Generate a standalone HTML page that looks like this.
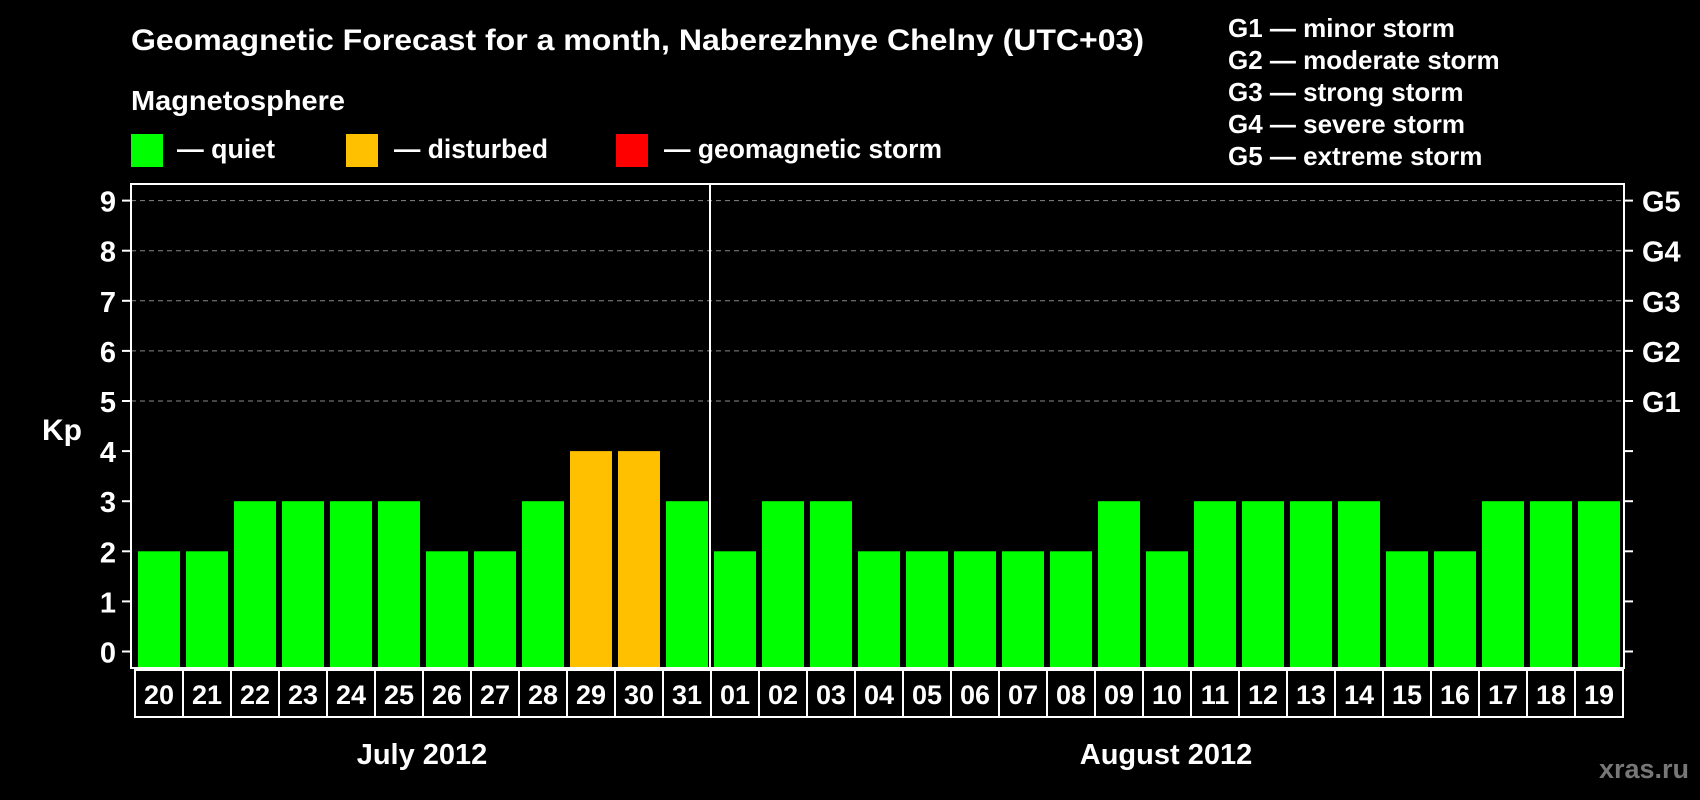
<!DOCTYPE html>
<html><head><meta charset="utf-8"><style>
html,body{margin:0;padding:0;background:#000;}
svg{display:block;font-family:"Liberation Sans",Arial,sans-serif;font-weight:bold;}
</style></head><body>
<svg id="chart" width="1700" height="800" viewBox="0 0 1700 800">
<rect x="0" y="0" width="1700" height="800" fill="#000"/>
<text x="131" y="50" fill="#fff" font-size="30" textLength="1013" lengthAdjust="spacingAndGlyphs">Geomagnetic Forecast for a month, Naberezhnye Chelny (UTC+03)</text>
<text x="131" y="110" fill="#fff" font-size="28" textLength="214" lengthAdjust="spacingAndGlyphs">Magnetosphere</text>
<g><rect x="131" y="134" width="32" height="33" fill="#00ff00"/><text x="177" y="158" fill="#fff" font-size="27" textLength="98" lengthAdjust="spacingAndGlyphs">— quiet</text></g>
<g><rect x="346" y="134" width="32" height="33" fill="#ffc000"/><text x="394" y="158" fill="#fff" font-size="27" textLength="154" lengthAdjust="spacingAndGlyphs">— disturbed</text></g>
<g><rect x="616" y="134" width="32" height="33" fill="#ff0000"/><text x="664" y="158" fill="#fff" font-size="27" textLength="278" lengthAdjust="spacingAndGlyphs">— geomagnetic storm</text></g>
<g fill="#fff" font-size="26">
<text x="1228" y="37">G1 — minor storm</text>
<text x="1228" y="69">G2 — moderate storm</text>
<text x="1228" y="101">G3 — strong storm</text>
<text x="1228" y="133">G4 — severe storm</text>
<text x="1228" y="165">G5 — extreme storm</text>
</g>
<text x="42" y="440" fill="#fff" font-size="30">Kp</text>
<g id="grid"></g><g id="bars"></g><g id="axes"></g><g id="dates"></g>
<text x="422" y="764" fill="#fff" font-size="29" text-anchor="middle">July 2012</text>
<text x="1166" y="764" fill="#fff" font-size="29" text-anchor="middle">August 2012</text>
<text x="1689" y="778" fill="#777" font-size="27" text-anchor="end">xras.ru</text>
</svg>
<script>
const days = ["20","21","22","23","24","25","26","27","28","29","30","31","01","02","03","04","05","06","07","08","09","10","11","12","13","14","15","16","17","18","19"];
const kp = [2,2,3,3,3,3,2,2,3,4,4,3,2,3,3,2,2,2,2,2,3,2,3,3,3,3,2,2,3,3,3];
const yTicks = [0,1,2,3,4,5,6,7,8,9];
const gLabels = ["G1","G2","G3","G4","G5"];
const NS="http://www.w3.org/2000/svg";
const L=131,R=1624,T=184,B=668,y0=651.5,unit=50.1,pitch=48,x0=135;
const y=v=>y0-v*unit;
const xb=i=>x0+i*pitch;
function mk(t,a,p){const e=document.createElementNS(NS,t);for(const k in a)e.setAttribute(k,a[k]);p.appendChild(e);return e;}
const grid=document.getElementById('grid'),bars=document.getElementById('bars'),axes=document.getElementById('axes'),dates=document.getElementById('dates');
yTicks.forEach(v=>{
  if(v>=5){const g=mk('line',{x1:L,x2:R,y1:y(v),y2:y(v),stroke:'#888','stroke-width':1,'stroke-dasharray':'5,4'},grid);
  
  }
  mk('line',{x1:L-9,x2:L,y1:y(v),y2:y(v),stroke:'#fff','stroke-width':2},axes);
  mk('line',{x1:R,x2:R+9,y1:y(v),y2:y(v),stroke:'#fff','stroke-width':2},axes);
  const t=mk('text',{x:116,y:y(v)+11,fill:'#fff','font-size':29,'text-anchor':'end'},axes);t.textContent=v;
  
  
});
gLabels.forEach((g,i)=>{const t=mk('text',{x:1642,y:y(5+i)+11,fill:'#fff','font-size':29},axes);t.textContent=g;
  
  });
kp.forEach((v,i)=>{
  const c=v>=5?'#ff0000':(v>=4?'#ffc000':'#00ff00');
  const r=mk('rect',{x:xb(i)+3,y:y(v),width:42,height:B-y(v),fill:c},bars);
  
  
});
const f=mk('rect',{x:L,y:T,width:R-L,height:B-T,fill:'none',stroke:'#fff','stroke-width':2},axes);


const sx=xb(12)-1;
const sep=mk('line',{x1:sx,x2:sx,y1:T,y2:B,stroke:'#fff','stroke-width':2},axes);


days.forEach((d,i)=>{
  mk('rect',{x:xb(i),y:670,width:pitch,height:47,fill:'none',stroke:'#fff','stroke-width':2},dates);
  const t=mk('text',{x:xb(i)+pitch/2,y:704,fill:'#fff','font-size':27,'text-anchor':'middle'},dates);t.textContent=d;
  
  
});
</script>
</body></html>
